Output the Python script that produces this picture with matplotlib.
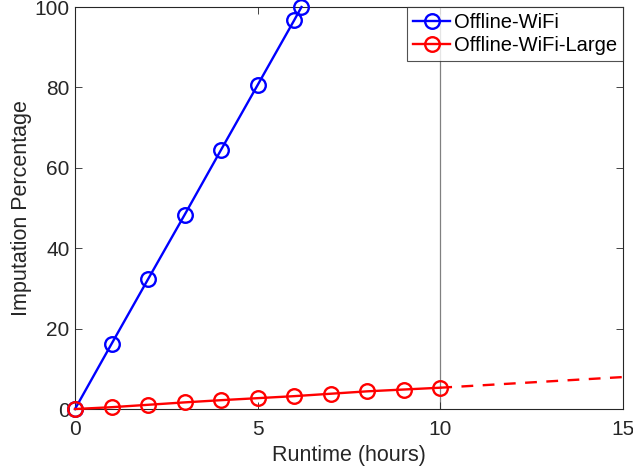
import matplotlib as mpl
mpl.use('Agg')
import matplotlib.pyplot as plt

# imputation progress per hour of runtime
wifi_hours = [0, 1, 2, 3, 4, 5, 6, 6.2]
wifi_pct = [0, 16.2, 32.3, 48.3, 64.5, 80.6, 96.7, 100]

large_hours = [0, 1, 2, 3, 4, 5, 6, 7, 8, 9, 10]
large_pct = [0, 0.45, 1.05, 1.65, 2.2, 2.7, 3.2, 3.8, 4.4, 4.85, 5.3]

# projected continuation of the large run
proj_hours = [10, 15]
proj_pct = [5.3, 7.95]

cutoff = 10

plt.rcParams['font.family'] = ['Liberation Sans', 'DejaVu Sans']
plt.rcParams['font.size'] = 15

fig = plt.figure(figsize=(6.33, 4.71), dpi=100)
ax = fig.add_axes([0.1185, 0.1316, 0.8655, 0.8535])

ax.axvline(cutoff, color='#808080', lw=0.9, zorder=1)
ax.plot(wifi_hours, wifi_pct, '-o', color='#0000ff', lw=1.7, ms=10.5,
        mfc='none', mew=1.7, label='Offline-WiFi', clip_on=False, zorder=3)
ax.plot(large_hours, large_pct, '-o', color='#ff0000', lw=1.7, ms=10.5,
        mfc='none', mew=1.7, label='Offline-WiFi-Large', clip_on=False, zorder=3)
ax.plot(proj_hours, proj_pct, '--', color='#ff0000', lw=1.7, dashes=(5, 4),
        clip_on=False, zorder=3)

ax.set_xlim(0, 15)
ax.set_ylim(0, 100)
ax.set_xticks([0, 5, 10, 15])
ax.set_yticks([0, 20, 40, 60, 80, 100])
ax.tick_params(direction='in', top=True, right=True, length=5, width=0.6,
               colors='#262626', labelsize=15)
ax.tick_params(axis='x', pad=8)
ax.tick_params(axis='y', pad=4)
for s in ax.spines.values():
    s.set_color('#262626')
    s.set_linewidth(0.8)

ax.set_xlabel('Runtime (hours)', color='#262626', fontsize=15.5, labelpad=4)
ax.set_ylabel('Imputation Percentage', color='#262626', fontsize=15.5, labelpad=2)

leg = ax.legend(loc='upper right', fontsize=14.5, frameon=True, fancybox=False,
                borderaxespad=0, handlelength=1.8, handletextpad=0.2,
                borderpad=0.3, labelspacing=0.2)
leg.get_frame().set_edgecolor('#262626')
leg.get_frame().set_linewidth(0.8)

fig.savefig('out.png', dpi=100)
